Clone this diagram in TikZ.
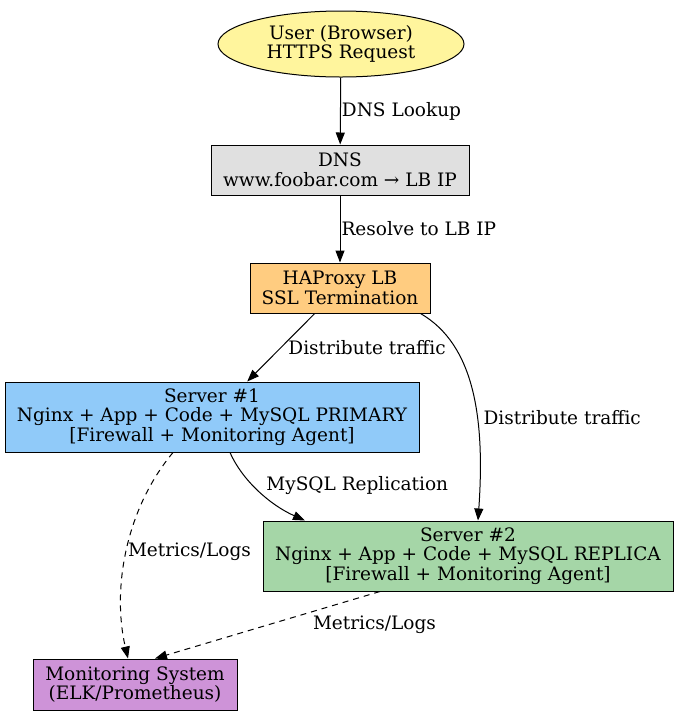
\documentclass[tikz,border=0pt]{standalone}
\usepackage{fontspec}
\setmainfont{DejaVu Serif}
\usetikzlibrary{shapes.geometric,arrows.meta}
\definecolor{userfill}{HTML}{FFF59D}
\definecolor{dnsfill}{HTML}{E0E0E0}
\definecolor{lbfill}{HTML}{FFCC80}
\definecolor{srvonefill}{HTML}{90CAF9}
\definecolor{srvtwofill}{HTML}{A5D6A7}
\definecolor{monfill}{HTML}{CE93D8}

\begin{document}
\begin{tikzpicture}[x=1pt,y=-1pt,line width=1pt,
    every node/.style={font=\fontsize{18.5}{19.5}\selectfont},
    box/.style={draw,rectangle,align=center,minimum height=50pt,inner sep=2pt},
    lab/.style={right,inner sep=1pt},
    dashline/.style={dash pattern=on 6pt off 5pt},
    >={Triangle[length=12pt,width=9pt]}]
    \useasboundingbox (0,0) rectangle (679,716);
    \node[ellipse,draw,fill=userfill,align=center,minimum width=246pt,minimum height=66pt,inner sep=1pt] (user) at (341,44) {User (Browser)\\HTTPS Request};
    \node[box,fill=dnsfill,minimum width=258pt] (dns) at (340,170) {DNS\\www.foobar.com → LB IP};
    \node[box,fill=lbfill,minimum width=180pt] (lb) at (340,288) {HAProxy LB\\SSL Termination};
    \node[box,fill=srvonefill,minimum width=414pt,minimum height=70pt] (srv1) at (212,417) {Server \#1\\Nginx + App + Code + MySQL PRIMARY\\{}[Firewall + Monitoring Agent]};
    \node[box,fill=srvtwofill,minimum width=410pt,minimum height=70pt] (srv2) at (468,556) {Server \#2\\Nginx + App + Code + MySQL REPLICA\\{}[Firewall + Monitoring Agent]};
    \node[box,fill=monfill,minimum width=204pt,minimum height=51pt] (mon) at (135,684.5) {Monitoring System\\(ELK/Prometheus)};

    \draw[->] (user) -- (dns) node[midway,lab] {DNS Lookup};
    \draw[->] (dns) -- (lb) node[midway,lab] {Resolve to LB IP};
    \draw[->] (lb) -- (srv1) node[midway,lab,xshift=6pt] {Distribute traffic};
    \draw[->] ([xshift=-10pt]lb.south east) .. controls (475,345) and (485,420) .. ([xshift=10pt]srv2.north) node[pos=0.62,lab,xshift=5pt] {Distribute traffic};
    \draw[->] ([xshift=18pt]srv1.south) .. controls (242,480) and (270,505) .. ([xshift=-163pt]srv2.north) node[midway,lab,xshift=6pt,yshift=5pt] {MySQL Replication};
    \draw[->,dashline] ([xshift=-39pt]srv1.south) .. controls (125,510) and (112,590) .. ([xshift=-7pt]mon.north) node[midway,lab] {Metrics/Logs};
    \draw[->,dashline] ([xshift=-88pt]srv2.south) -- ([xshift=20pt]mon.north) node[midway,lab,xshift=44pt] {Metrics/Logs};
\end{tikzpicture}
\end{document}
